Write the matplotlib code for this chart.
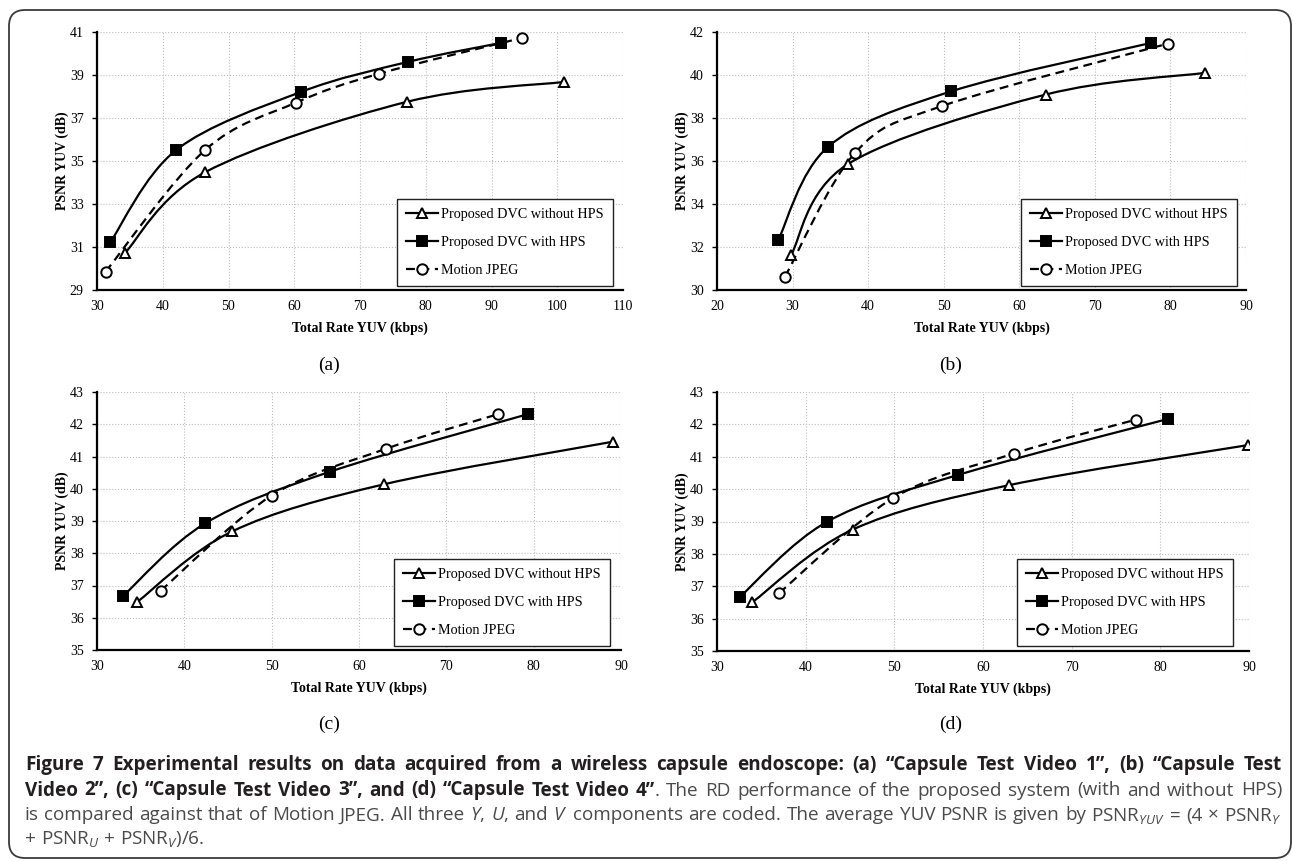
import numpy as np
import matplotlib
matplotlib.use("Agg")
import matplotlib.pyplot as plt
from matplotlib.path import Path
from matplotlib.patches import PathPatch, FancyBboxPatch
from matplotlib.lines import Line2D
from matplotlib.transforms import IdentityTransform

# ---- data ----
series_names = ["Proposed DVC without HPS", "Proposed DVC with HPS", "Motion JPEG"]

# (a) Capsule Test Video 1
a_rate_nohps = [34.2, 46.4, 77.1, 101.1]
a_psnr_nohps = [30.70, 34.47, 37.75, 38.68]
a_rate_hps = [32.0, 42.0, 61.0, 77.3, 91.4]
a_psnr_hps = [31.21, 35.50, 38.21, 39.61, 40.49]
a_rate_mjpeg = [31.3, 46.4, 60.3, 72.9, 94.6]
a_psnr_mjpeg = [29.85, 35.50, 37.72, 39.06, 40.72]

# (b) Capsule Test Video 2
b_rate_nohps = [29.8, 37.3, 63.5, 84.6]
b_psnr_nohps = [31.63, 35.85, 39.09, 40.10]
b_rate_hps = [28.1, 34.7, 51.0, 77.4]
b_psnr_hps = [32.32, 36.66, 39.24, 41.49]
b_rate_mjpeg = [29.0, 38.3, 49.8, 79.7]
b_psnr_mjpeg = [30.62, 36.39, 38.56, 41.46]

# (c) Capsule Test Video 3
c_rate_nohps = [34.6, 45.5, 62.9, 89.1]
c_psnr_nohps = [36.49, 38.68, 40.14, 41.46]
c_rate_hps = [33.0, 42.4, 56.7, 79.3]
c_psnr_hps = [36.68, 38.93, 40.53, 42.31]
c_rate_mjpeg = [37.3, 50.0, 63.1, 75.9]
c_psnr_mjpeg = [36.84, 39.79, 41.24, 42.31]

# (d) Capsule Test Video 4
d_rate_nohps = [34.0, 45.3, 62.9, 89.9]
d_psnr_nohps = [36.51, 38.75, 40.12, 41.36]
d_rate_hps = [32.6, 42.4, 57.2, 80.9]
d_psnr_hps = [36.68, 38.99, 40.44, 42.17]
d_rate_mjpeg = [37.0, 49.9, 63.5, 77.3]
d_psnr_mjpeg = [36.79, 39.73, 41.10, 42.15]

panel_labels = ["(a)", "(b)", "(c)", "(d)"]
x_ranges = [(30, 110), (20, 90), (30, 90), (30, 90)]
y_ranges = [(29, 41, 2), (30, 42, 2), (35, 43, 1), (35, 43, 1)]

# caption, one list per printed line; "B" = bold part, "N" = normal part
caption_lines = [
    [("B", "Figure 7 Experimental results on data acquired from a wireless capsule endoscope: "
           "(a) \u201cCapsule Test Video 1\u201d, (b) \u201cCapsule Test")],
    [("B", "Video 2\u201d, (c) \u201cCapsule Test Video 3\u201d, and (d) \u201cCapsule Test Video 4\u201d"),
     ("N", ". The RD performance of the proposed system (with and without HPS)")],
    [("N", "is compared against that of Motion JPEG. All three $Y$, $U$, and $V$ components are coded. "
           "The average YUV PSNR is given by PSNR$_{YUV}$ = (4 \u00d7 PSNR$_{Y}$")],
    [("N", "+ PSNR$_{U}$ + PSNR$_{V}$)/6.")],
]

plt.rcParams["font.family"] = ["Liberation Serif", "DejaVu Serif"]
plt.rcParams["mathtext.fontset"] = "custom"
plt.rcParams["mathtext.rm"] = "Open Sans"
plt.rcParams["mathtext.it"] = "Open Sans:italic"
plt.rcParams["mathtext.bf"] = "Open Sans:bold"

W, H = 1293, 861
fig = plt.figure(figsize=(W / 100, H / 100), dpi=100)


def smooth_path(x, y):
    # Excel style smoothed line (Catmull-Rom bezier through the points)
    pts = np.column_stack([x, y]).astype(float)
    n = len(pts)
    verts = [pts[0]]
    codes = [Path.MOVETO]
    for i in range(n - 1):
        p0 = pts[i - 1] if i > 0 else pts[i]
        p1 = pts[i]
        p2 = pts[i + 1]
        p3 = pts[i + 2] if i + 2 < n else pts[i + 1]
        verts += [p1 + (p2 - p0) / 6, p2 - (p3 - p1) / 6, p2]
        codes += [Path.CURVE4] * 3
    return Path(verts, codes)


styles = [
    dict(marker="^", mfc="white", ms=7.5, ls="-"),
    dict(marker="s", mfc="black", ms=7.5, ls="-"),
    dict(marker="o", mfc="white", ms=7.5, ls=(0, (4, 2.5))),
]

# axes boxes in pixels: left, right, top, bottom
boxes = [(97, 623, 32, 290), (717, 1246, 32, 290),
         (97, 621, 392, 650), (717, 1249, 392, 651)]
legend_anchor = [(0.981, 0.0155), (0.983, 0.0155), (0.979, 0.0155), (0.970, 0.02)]
panel_pos = [(329, 365), (951, 365), (329, 724), (951, 724)]

data = [
    [(a_rate_nohps, a_psnr_nohps), (a_rate_hps, a_psnr_hps), (a_rate_mjpeg, a_psnr_mjpeg)],
    [(b_rate_nohps, b_psnr_nohps), (b_rate_hps, b_psnr_hps), (b_rate_mjpeg, b_psnr_mjpeg)],
    [(c_rate_nohps, c_psnr_nohps), (c_rate_hps, c_psnr_hps), (c_rate_mjpeg, c_psnr_mjpeg)],
    [(d_rate_nohps, d_psnr_nohps), (d_rate_hps, d_psnr_hps), (d_rate_mjpeg, d_psnr_mjpeg)],
]

for k in range(4):
    l, r, t, b = boxes[k]
    ax = fig.add_axes([l / W, 1 - b / H, (r - l) / W, (b - t) / H])
    for (xs, ys), st in zip(data[k], styles):
        ax.add_patch(PathPatch(smooth_path(xs, ys), fill=False, ec="black",
                               lw=1.6, ls=st["ls"], zorder=3, capstyle="butt"))
        ax.plot(xs, ys, ls="none", marker=st["marker"], mfc=st["mfc"], mec="black",
                mew=1.4, ms=st["ms"], zorder=4)

    x0, x1 = x_ranges[k]
    y0, y1, ys = y_ranges[k]
    ax.set_xlim(x0, x1)
    ax.set_ylim(y0, y1)
    ax.set_xticks(np.arange(x0, x1 + 1, 10))
    ax.set_yticks(np.arange(y0, y1 + 0.5, ys))
    ax.grid(True, ls=":", color="#bdbdbd", lw=0.8)
    ax.set_axisbelow(True)
    for s in ["top", "right"]:
        ax.spines[s].set_visible(False)
    for s in ["left", "bottom"]:
        ax.spines[s].set_linewidth(1.6)
    ax.tick_params(axis="x", length=0, pad=7, labelsize=10)
    ax.tick_params(axis="y", length=3.5, width=1, direction="out", pad=6, labelsize=10)

    ax.set_xlabel("Total Rate YUV (kbps)", fontsize=10, fontweight="bold", va="center")
    ax.xaxis.set_label_coords(0.5, -(38 / (b - t)))
    ax.set_ylabel("PSNR YUV (dB)", fontsize=10, fontweight="bold", va="center")
    ax.yaxis.set_label_coords(-(35 / (r - l)), 0.5)

    handles = [Line2D([], [], color="black", lw=1.6, ls=st["ls"], marker=st["marker"],
                      mfc=st["mfc"], mec="black", mew=1.4, ms=st["ms"]) for st in styles]
    leg = ax.legend(handles, series_names, loc="lower right",
                    bbox_to_anchor=legend_anchor[k], borderaxespad=0,
                    fontsize=10.2, handlelength=2.3, handletextpad=0.2,
                    labelspacing=1.05, borderpad=0.65, fancybox=False,
                    framealpha=1, edgecolor="#222222")
    leg.get_frame().set_linewidth(1.0)
    leg.set_zorder(5)

    px, py = panel_pos[k]
    fig.text(px / W, 1 - py / H, panel_labels[k], fontsize=14, ha="center", va="center")

# rounded outer frame
frame = FancyBboxPatch((9, 3), 1282, 848, boxstyle="round,pad=0,rounding_size=16",
                       transform=IdentityTransform(), fill=False, ec="#3a3a3a", lw=1.3)
fig.add_artist(frame)

# caption, justified over the first three lines
cap_size = 13.6
cap_left, cap_right = 25, 1282
baselines = [770, 795.5, 820.5, 844]
colours = {"B": "#231f20", "N": "#4a4a4a"}
weights = {"B": "bold", "N": "normal"}

renderer = fig.canvas.get_renderer()
for li, parts in enumerate(caption_lines):
    # split into words, each word is a list of (kind, text) pieces
    words = []
    glue = False
    for kind, txt in parts:
        chunks = txt.split(" ")
        for j, c in enumerate(chunks):
            if c == "":
                glue = False
                continue
            if j == 0 and glue and words:
                words[-1].append((kind, c))
            else:
                words.append([(kind, c)])
            glue = True
        glue = not txt.endswith(" ")
    # make text pieces and measure them
    word_arts = []
    for w in words:
        arts = []
        for kind, c in w:
            tx = fig.text(0, 1 - baselines[li] / H, c, fontsize=cap_size,
                          family=["Open Sans", "DejaVu Sans"], fontweight=weights[kind],
                          color=colours[kind], va="baseline", ha="left")
            arts.append((tx, tx.get_window_extent(renderer).width))
        word_arts.append(arts)
    widths = [sum(wd for _, wd in arts) for arts in word_arts]
    space = fig.text(0, 0, "a a", fontsize=cap_size, family="Open Sans")
    sp_w = space.get_window_extent(renderer).width
    a_w = fig.text(0, 0, "aa", fontsize=cap_size, family="Open Sans")
    sp_w -= a_w.get_window_extent(renderer).width
    space.remove()
    a_w.remove()
    if li < len(caption_lines) - 1 and len(words) > 1:
        gap = (cap_right - cap_left - sum(widths)) / (len(words) - 1)
    else:
        gap = sp_w
    x = cap_left
    for arts in word_arts:
        for tx, wd in arts:
            tx.set_x(x / W)
            x += wd
        x += gap

fig.savefig("out.png", dpi=100)
